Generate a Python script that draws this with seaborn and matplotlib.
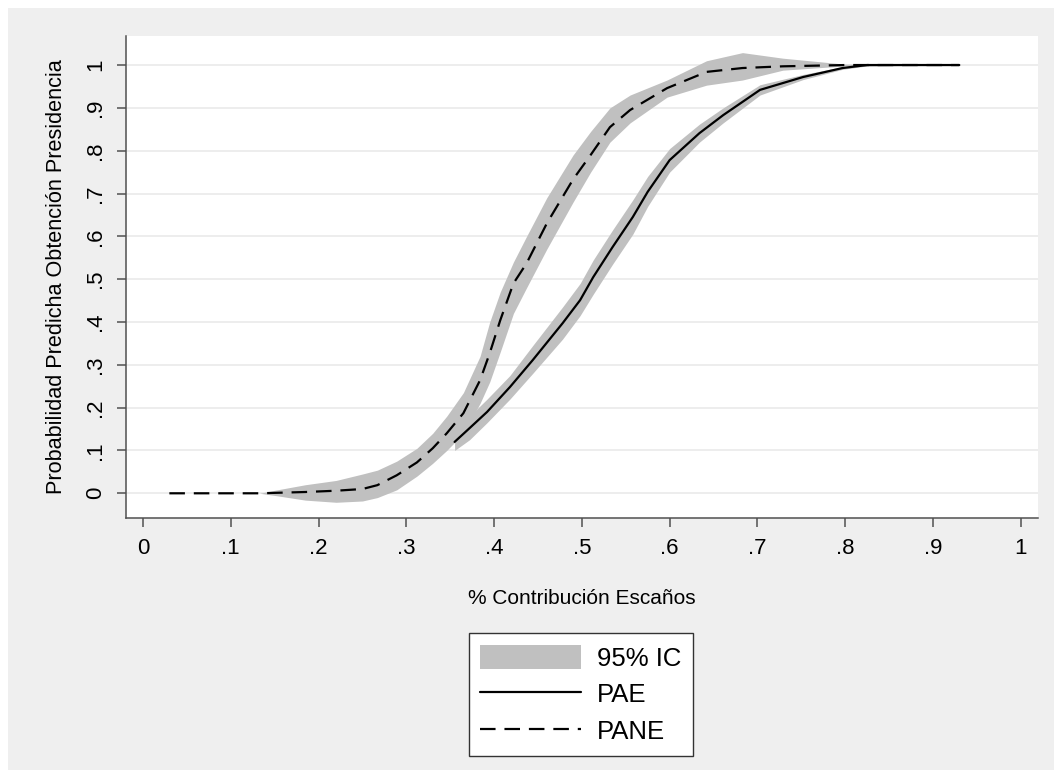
import numpy as np
import pandas as pd
import matplotlib
matplotlib.use("Agg")
import matplotlib.pyplot as plt
import seaborn as sns
from matplotlib.patches import Rectangle, Patch
from matplotlib.lines import Line2D

# PANE (dashed) curve with 95% band
pane_x = [0.03, 0.10, 0.133, 0.15, 0.185, 0.22, 0.25, 0.267, 0.289, 0.312, 0.33, 0.346, 0.365, 0.384,
          0.395, 0.407, 0.422, 0.437, 0.46, 0.49, 0.51, 0.532, 0.555, 0.597, 0.642, 0.683, 0.729, 0.8, 0.93]
pane_y = [0.0, 0.0, 0.0, 0.001, 0.003, 0.006, 0.01, 0.019, 0.042, 0.072, 0.105, 0.14, 0.187, 0.264,
          0.327, 0.404, 0.49, 0.537, 0.63, 0.733, 0.79, 0.855, 0.895, 0.946, 0.984, 0.993, 0.997, 1.0, 1.0]
pane_lo = [0.0, 0.0, 0.0, -0.005, -0.016, -0.021, -0.018, -0.01, 0.008, 0.04, 0.07, 0.10, 0.14, 0.21,
           0.26, 0.33, 0.42, 0.48, 0.57, 0.68, 0.75, 0.82, 0.865, 0.925, 0.953, 0.965, 0.988, 0.998, 1.0]
pane_hi = [0.0, 0.0, 0.0, 0.007, 0.02, 0.03, 0.045, 0.054, 0.075, 0.105, 0.14, 0.18, 0.235, 0.32,
           0.40, 0.47, 0.54, 0.60, 0.69, 0.79, 0.845, 0.90, 0.93, 0.965, 1.01, 1.029, 1.016, 1.002, 1.0]

# PAE (solid) curve with 95% band
pae_x = [0.355, 0.372, 0.392, 0.418, 0.444, 0.478, 0.498, 0.513, 0.535, 0.558, 0.575, 0.6, 0.634,
         0.661, 0.703, 0.752, 0.797, 0.825, 0.93]
pae_y = [0.12, 0.152, 0.19, 0.248, 0.311, 0.397, 0.451, 0.505, 0.575, 0.645, 0.704, 0.778, 0.841,
         0.883, 0.942, 0.972, 0.993, 1.0, 1.0]
pae_lo = [0.10, 0.125, 0.165, 0.22, 0.28, 0.36, 0.415, 0.465, 0.535, 0.605, 0.67, 0.75, 0.82,
          0.865, 0.93, 0.966, 0.99, 0.998, 1.0]
pae_hi = [0.15, 0.18, 0.22, 0.275, 0.345, 0.435, 0.49, 0.545, 0.615, 0.685, 0.74, 0.805, 0.862,
          0.9, 0.954, 0.978, 0.996, 1.002, 1.0]

ticks = [0, .1, .2, .3, .4, .5, .6, .7, .8, .9, 1]
tick_labels = ["0", ".1", ".2", ".3", ".4", ".5", ".6", ".7", ".8", ".9", "1"]

df = pd.concat([
    pd.DataFrame({"x": pae_x, "y": pae_y, "serie": "PAE"}),
    pd.DataFrame({"x": pane_x, "y": pane_y, "serie": "PANE"}),
])

sns.set_style("white")
plt.rcParams["font.family"] = ["Liberation Sans", "DejaVu Sans"]
plt.rcParams["text.color"] = "black"
plt.rcParams["axes.labelcolor"] = "black"

band = "#c0c0c0"
fig = plt.figure(figsize=(10.54, 7.70), dpi=100)
fig.patch.set_facecolor("white")
fig.add_artist(Rectangle((8 / 1054, 0), 1, 1 - 8 / 770, transform=fig.transFigure,
                         facecolor="#efefef", edgecolor="none", zorder=-10))

ax = fig.add_axes([126 / 1054, 1 - 517.7 / 770, 912 / 1054, 481.7 / 770])
ax.set_facecolor("white")

ax.fill_between(pane_x, pane_lo, pane_hi, color=band, lw=0, zorder=2)
ax.fill_between(pae_x, pae_lo, pae_hi, color=band, lw=0, zorder=2)
sns.lineplot(data=df, x="x", y="y", style="serie", color="black", lw=1.6,
             dashes={"PAE": "", "PANE": (7, 4)}, legend=False, ax=ax, zorder=3,
             estimator=None, sort=False)

ax.set_xlim(-0.0194, 1.0197)
ax.set_ylim(-0.057, 1.0678)
ax.set_xticks(ticks)
ax.set_xticklabels(tick_labels)
ax.set_yticks(ticks)
ax.set_yticklabels(tick_labels, rotation=90, va="center")
ax.yaxis.grid(True, color="#e8e8e8", lw=1.1, zorder=0)
ax.set_axisbelow(True)

for s in ["top", "right"]:
    ax.spines[s].set_visible(False)
for s in ["left", "bottom"]:
    ax.spines[s].set_color("#505050")
    ax.spines[s].set_linewidth(1.1)
ax.tick_params(axis="both", direction="out", length=6.5, width=1.1, color="#505050",
               labelsize=16, labelcolor="black", left=True, bottom=True)
ax.tick_params(axis="x", pad=8)
ax.tick_params(axis="y", pad=8)

ax.set_xlabel("% Contribución Escaños", fontsize=15, labelpad=22)
ax.set_ylabel("Probabilidad Predicha Obtención Presidencia", fontsize=15.6, labelpad=13)

handles = [Patch(facecolor=band, edgecolor="none"),
           Line2D([], [], color="black", lw=1.6),
           Line2D([], [], color="black", lw=1.6, dashes=(7, 4))]
leg = fig.legend(handles, ["95% IC", "PAE", "PANE"], loc="upper center",
                 bbox_to_anchor=(581 / 1054, 1 - 633 / 770), fontsize=18.5,
                 frameon=True, fancybox=False, edgecolor="#333333", framealpha=1,
                 handlelength=3.9, handleheight=1.1, labelspacing=0.42, borderpad=0.45,
                 handletextpad=0.65, borderaxespad=0)
leg.get_frame().set_linewidth(1.0)

fig.savefig("out.png", dpi=100, facecolor=fig.get_facecolor())
